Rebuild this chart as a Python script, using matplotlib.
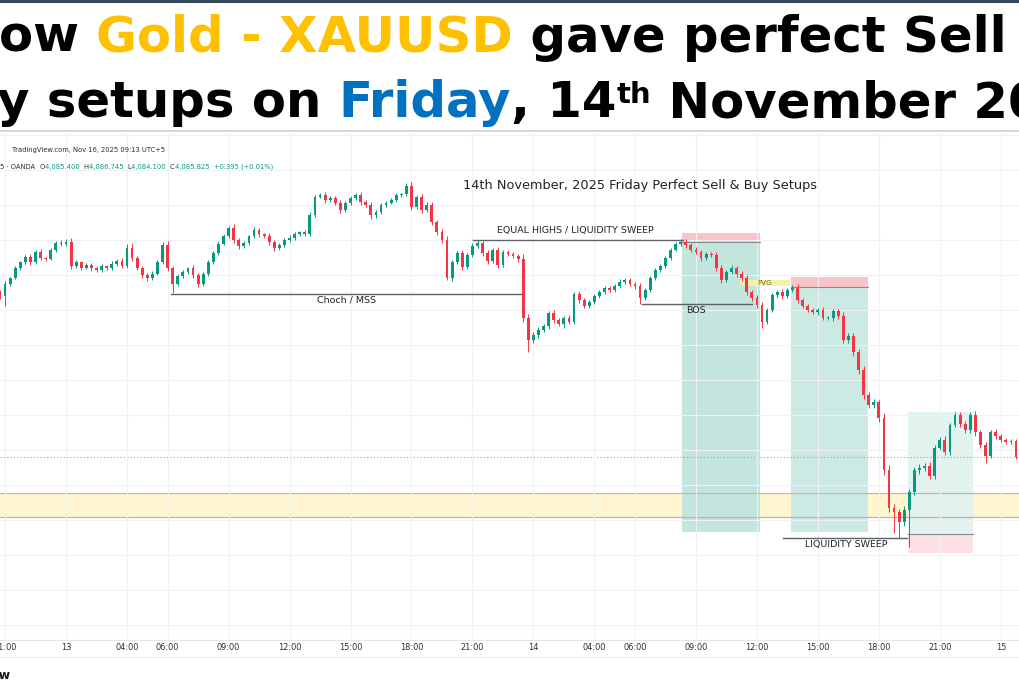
import matplotlib
matplotlib.use("Agg")
import matplotlib.pyplot as plt
import numpy as np
from matplotlib.patches import Rectangle
from matplotlib.lines import Line2D
import matplotlib.transforms as mtransforms

# ---------------- data (15-minute XAUUSD candles, 12 Nov 20:45 -> 15 Nov 01:00, UTC+5) -------------
first_open = 4180.0
closes = [
    4177.7, 4184.6, 4188.0, 4193.7, 4197.1, 4200.0, 4197.1, 4202.9, 4199.4, 4198.9,
    4204.0, 4208.0, 4207.4, 4208.6, 4194.9, 4197.1, 4193.7, 4195.4, 4193.7, 4192.6,
    4194.9, 4193.7, 4196.0, 4197.7, 4194.9, 4205.1, 4199.4, 4193.7, 4189.7, 4188.0,
    4190.3, 4197.1, 4206.9, 4193.7, 4184.6, 4189.1, 4191.4, 4193.7, 4189.7, 4184.6,
    4190.3, 4197.1, 4202.3, 4207.4, 4212.0, 4216.6, 4209.7, 4206.3, 4208.0, 4212.0,
    4215.4, 4213.1, 4212.0, 4208.6, 4205.1, 4206.9, 4209.7, 4210.9, 4213.1, 4214.3,
    4213.1, 4224.0, 4234.3, 4235.4, 4232.6, 4233.7, 4230.9, 4226.9, 4230.9, 4233.7,
    4235.4, 4231.4, 4229.7, 4224.0, 4225.7, 4229.7, 4230.9, 4232.6, 4235.4, 4236.0,
    4240.6, 4228.6, 4234.3, 4226.9, 4229.7, 4220.0, 4214.3, 4209.7, 4188.0, 4197.1,
    4202.3, 4194.3, 4201.1, 4206.3, 4208.0, 4202.3, 4197.7, 4204.0, 4195.4, 4202.9,
    4201.7, 4200.6, 4198.9, 4165.1, 4152.6, 4155.4, 4158.3, 4160.6, 4168.0, 4164.0,
    4161.7, 4165.1, 4162.9, 4178.9, 4175.4, 4172.0, 4174.3, 4177.7, 4180.0, 4182.3,
    4181.1, 4183.4, 4185.7, 4186.9, 4184.6, 4183.4, 4176.6, 4181.1, 4188.0, 4192.6,
    4194.9, 4199.4, 4204.0, 4207.4, 4208.6, 4206.9, 4204.0, 4202.9, 4199.4, 4201.7,
    4201.1, 4193.7, 4186.9, 4191.4, 4193.7, 4190.3, 4188.0, 4180.0, 4176.6, 4172.6,
    4162.9, 4169.7, 4178.3, 4180.0, 4177.7, 4181.1, 4182.3, 4175.4, 4172.0, 4169.7,
    4168.6, 4169.7, 4165.1, 4165.1, 4169.1, 4166.3, 4152.6, 4154.9, 4145.7, 4135.4,
    4121.1, 4115.4, 4117.1, 4108.0, 4078.3, 4056.6, 4054.3, 4048.6, 4055.4, 4065.7,
    4078.3, 4079.4, 4080.6, 4074.9, 4090.9, 4095.4, 4088.6, 4104.0, 4109.7, 4104.6,
    4101.1, 4109.7, 4100.0, 4092.6, 4086.3, 4100.0, 4097.7, 4095.4, 4094.3, 4094.9,
    4085.8,
]
upper_wicks = [
    1.0, 1.5, 0.8, 1.2, 0.9, 1.4, 2.0, 1.1, 1.6, 0.8, 1.3, 0.9, 1.5, 1.7, 2.2, 1.0, 0.8, 1.4, 1.1, 0.9,
    1.2, 0.7, 1.5, 1.0, 1.8, 2.1, 3.0, 1.2, 0.9, 1.3, 1.6, 1.0, 1.7, 2.4, 1.1, 1.4, 1.0, 0.8, 1.5, 1.2,
    0.9, 1.3, 1.0, 1.6, 1.2, 1.1, 2.3, 1.0, 1.4, 0.8, 1.5, 1.2, 0.9, 1.6, 1.1, 1.3, 0.9, 1.4, 1.0, 0.8,
    1.2, 1.5, 1.1, 1.2, 1.8, 1.0, 1.4, 1.6, 0.9, 1.2, 1.0, 2.0, 1.3, 1.5, 1.1, 0.9, 1.2, 1.0, 1.4, 0.8,
    1.7, 2.5, 1.2, 1.8, 1.5, 2.0, 1.1, 1.6, 2.2, 1.4, 1.0, 1.8, 1.2, 1.5, 1.7, 1.3, 1.6, 1.1, 2.0, 1.2,
    0.9, 1.1, 1.0, 2.8, 2.5, 1.5, 1.8, 1.2, 1.4, 1.9, 1.3, 1.0, 1.5, 1.2, 1.6, 1.1, 1.3, 1.0, 0.9, 1.4,
    1.2, 1.0, 1.5, 1.3, 1.1, 0.9, 1.8, 1.4, 1.0, 1.2, 0.9, 1.3, 1.0, 1.1, 1.7, 1.5, 1.2, 1.6, 1.0, 1.4,
    1.1, 1.8, 2.0, 1.2, 1.5, 1.3, 1.6, 1.9, 1.4, 1.7, 1.5, 1.2, 1.3, 1.0, 1.6, 1.2, 1.5, 2.2, 1.4, 1.1,
    1.3, 1.0, 1.6, 1.2, 1.4, 1.1, 2.5, 1.8, 1.5, 2.0, 2.4, 1.6, 1.9, 1.4, 3.0, 2.8, 2.2, 1.8, 2.5, 2.0,
    1.8, 2.4, 1.6, 2.0, 1.5, 1.8, 2.2, 1.4, 1.7, 2.0, 1.5, 1.6, 2.1, 1.4, 1.8, 1.3, 1.5, 1.2, 1.4, 1.1,
    1.0,
]
lower_wicks = [
    1.5, 5.7, 1.0, 0.8, 1.2, 1.0, 1.6, 0.9, 1.3, 1.1, 0.8, 1.2, 1.0, 0.9, 1.8, 1.4, 1.1, 0.8, 1.5, 1.2,
    1.0, 1.3, 0.9, 1.1, 1.4, 1.0, 1.5, 1.2, 1.6, 1.9, 1.1, 0.8, 1.0, 1.7, 5.2, 1.3, 1.0, 1.2, 1.5, 1.7,
    1.2, 0.9, 1.1, 1.0, 0.8, 1.2, 1.6, 2.0, 1.1, 0.9, 1.0, 1.4, 1.2, 1.5, 1.8, 1.1, 0.9, 1.3, 1.0, 1.2,
    0.9, 1.0, 1.2, 0.8, 1.5, 1.3, 1.1, 1.8, 1.0, 0.9, 1.2, 1.6, 1.4, 2.2, 1.9, 1.0, 1.1, 0.8, 1.2, 1.0,
    0.9, 1.8, 1.3, 2.0, 1.4, 1.6, 1.9, 1.5, 1.1, 1.8, 1.2, 1.5, 1.3, 1.0, 1.2, 1.6, 1.8, 1.1, 1.7, 1.3,
    1.1, 1.2, 1.5, 2.4, 6.9, 2.0, 1.6, 1.3, 1.8, 1.5, 1.4, 2.1, 1.2, 1.0, 1.5, 1.3, 1.1, 1.2, 1.0, 0.9,
    1.3, 1.1, 1.0, 1.4, 1.2, 1.5, 3.5, 1.1, 1.0, 0.9, 1.2, 1.0, 1.1, 0.8, 1.3, 1.5, 1.2, 1.4, 1.6, 1.1,
    1.3, 1.7, 2.0, 1.4, 1.2, 1.5, 1.6, 1.8, 1.5, 2.0, 3.5, 1.4, 1.2, 1.1, 1.5, 1.3, 1.2, 1.6, 1.4, 1.2,
    1.1, 1.5, 1.3, 1.2, 1.4, 1.6, 2.0, 1.8, 2.2, 2.5, 2.0, 1.8, 1.6, 2.2, 3.0, 2.5, 12.0, 9.2, 2.5, 21.1,
    1.8, 2.2, 1.5, 2.0, 1.6, 1.4, 2.0, 1.5, 1.3, 1.8, 1.6, 1.4, 2.0, 1.5, 4.0, 1.2, 1.5, 1.3, 1.4, 1.2,
    1.1,
]
tick_labels = ["21:00", "13", "04:00", "06:00", "09:00", "12:00", "15:00", "18:00", "21:00",
               "14", "04:00", "06:00", "09:00", "12:00", "15:00", "18:00", "21:00", "15"]
tick_bars = [1, 13, 25, 33, 45, 57, 69, 81, 93, 105, 117, 125, 137, 149, 161, 173, 185, 197]

# annotation levels (price) and bar spans
eqh_level, eqh_span = 4209.8, (93.1, 134.4)
choch_level, choch_span = 4178.9, (33.7, 102.8)
bos_level, bos_span = 4173.1, (126.4, 148.0)
sweep_level, sweep_span = 4039.4, (154.1, 178.5)
fvg_zone, fvg_span = (4183.4, 4186.9), (145.7, 155.5)
sell1 = dict(span=(134.3, 149.6), stop=4213.7, entry=4208.6, target=4042.9)
sell2 = dict(span=(155.7, 170.9), stop=4188.6, entry=4182.9, target=4042.9)
buy1 = dict(span=(178.7, 191.5), stop=4030.9, entry=4041.7, target=4111.4)
demand_zone = (4051.4, 4065.1)
last_price = 4085.8

# ---------------- figure ----------------
W, H = 1020, 700
fig = plt.figure(figsize=(W / 100, H / 100), dpi=100)
fig.patch.set_facecolor("white")

GREEN = "#089981"
RED = "#f23645"

CH_TOP, CH_BOT = 133, 639
ax = fig.add_axes([0, (H - CH_BOT) / H, 1, (CH_BOT - CH_TOP) / H])
PX_PER_BAR = 5.08
ax.set_xlim(0, W / PX_PER_BAR)
# price scale: 20 USD per 35 px, 4080 at pixel row 467
ax.set_ylim(4080 + (467 - CH_BOT) / 1.75, 4080 + (467 - CH_TOP) / 1.75)
for s in ax.spines.values():
    s.set_visible(False)
ax.set_yticks(np.arange(3990, 4280, 20))
ax.set_xticks(tick_bars)
ax.tick_params(length=0, labelleft=False, labelbottom=False)
ax.grid(True, color="#f0f1f3", lw=0.8, zorder=0)
ax.set_facecolor("white")

# demand zone
ax.axhspan(demand_zone[0], demand_zone[1], color="#fff5cf", zorder=1, lw=0)
ax.axhline(demand_zone[1], color="#c8b898", lw=0.9, zorder=1.5)
ax.axhline(demand_zone[0], color="#b5b5b5", lw=0.9, zorder=1.5)
ax.axhline(last_price, color="#7fb3aa", lw=0.8, ls=(0, (1, 2)), zorder=1.5)


def box(x0, x1, y0, y1, color, alpha=1.0, z=1.2):
    ax.add_patch(Rectangle((x0, min(y0, y1)), x1 - x0, abs(y1 - y0), facecolor=color,
                           edgecolor="none", alpha=alpha, zorder=z))


# position tools
box(*sell1["span"], sell1["entry"], sell1["stop"], "#f9c4c9")
box(*sell1["span"], sell1["target"], sell1["entry"], "#c4e4de")
box(*sell2["span"], sell2["entry"], sell2["stop"], "#f9c4c9")
box(*sell2["span"], sell2["target"], sell2["entry"], "#cde9e4")
box(*buy1["span"], buy1["entry"], buy1["target"], "#e1f2ef")
box(*buy1["span"], buy1["stop"], buy1["entry"], "#fce0e3")
ax.plot(sell1["span"], [sell1["entry"]] * 2, color="#8a8a8a", lw=0.8, zorder=2)
ax.plot(sell2["span"], [sell2["entry"]] * 2, color="#8a8a8a", lw=0.8, zorder=2)
ax.plot(buy1["span"], [buy1["entry"]] * 2, color="#8a8a8a", lw=0.8, zorder=2)
box(*fvg_span, fvg_zone[0], fvg_zone[1], "#f4f0a6", z=1.3)

# structure lines
LINE_C = "#5d6066"
ax.plot(eqh_span, [eqh_level] * 2, color=LINE_C, lw=1.0, zorder=5)
ax.plot(choch_span, [choch_level] * 2, color=LINE_C, lw=1.0, zorder=5)
ax.plot(bos_span, [bos_level] * 2, color=LINE_C, lw=1.0, zorder=5)
ax.plot(sweep_span, [sweep_level] * 2, color=LINE_C, lw=1.0, zorder=5)

# candles
c = np.array(closes)
o = np.array([first_open] + closes[:-1])
hi = np.maximum(o, c) + np.array(upper_wicks)
lo = np.minimum(o, c) - np.array(lower_wicks)
idx = np.arange(len(c))
cols = np.where(c >= o, GREEN, RED)
ax.vlines(idx, lo, hi, colors=cols, lw=0.7, zorder=6)
ax.bar(idx, np.maximum(np.abs(c - o), 0.35), bottom=np.minimum(o, c), width=0.55,
       color=cols, lw=0, zorder=7)

# chart labels
TXT = "#1f2329"
lab = dict(fontsize=6.8, color=TXT, family="DejaVu Sans", zorder=8)
ax.text(sum(eqh_span) / 2 - 0.5, eqh_level + 2.6, "EQUAL HIGHS / LIQUIDITY SWEEP", ha="center", va="bottom", **lab)
ax.text(68.3, choch_level - 1.0, "Choch / MSS", ha="center", va="top", **lab)
ax.text(137.0, bos_level - 1.0, "BOS", ha="center", va="top", **lab)
ax.text(150.6, sum(fvg_zone) / 2, "FVG", ha="center", va="center", fontsize=5.2, color="#6b6b40",
        family="DejaVu Sans", zorder=8)
ax.text(166.5, sweep_level - 1.3, "LIQUIDITY SWEEP", ha="center", va="top", **lab)
ax.text(91.1, 4241.1, "14th November, 2025 Friday Perfect Sell & Buy Setups", ha="left", va="center",
        fontsize=9.3, color=TXT, family="DejaVu Sans", zorder=8)

# time axis labels (row at pixel 648)
tr = mtransforms.blended_transform_factory(ax.transData, ax.transAxes)
label_row = -(648 - CH_BOT) / (CH_BOT - CH_TOP)
for b, t in zip(tick_bars, tick_labels):
    ax.text(b, label_row, t, transform=tr, ha="center", va="center", fontsize=5.9,
            color="#2a2e39", family="DejaVu Sans", clip_on=False)

# ---------------- header & frame ----------------
def fx(x):
    return x / W


def fy(y):
    return 1 - y / H


fig.add_artist(Line2D([0, 1], [fy(1), fy(1)], color="#34465a", lw=2.2))
fig.add_artist(Line2D([0, 1], [fy(131), fy(131)], color="#c9d1db", lw=1.2))
fig.add_artist(Line2D([0, 1], [fy(639.5), fy(639.5)], color="#e3e5e8", lw=0.8))
fig.add_artist(Line2D([0, 1], [fy(657), fy(657)], color="#eceef0", lw=0.8))

renderer = fig.canvas.get_renderer()


def px_width(s, **kw):
    t = fig.text(0, 0, s + "|", **kw)
    w1 = t.get_window_extent(renderer).width
    t.remove()
    t = fig.text(0, 0, "|", **kw)
    w2 = t.get_window_extent(renderer).width
    t.remove()
    return w1 - w2


def seq(parts, x0, yb, base):
    x = x0
    for s, kw in parts:
        k = dict(base)
        k.update(kw)
        dy = k.pop("dy", 0)
        fig.text(fx(x), fy(yb - dy), s, ha="left", va="baseline", **k)
        x += px_width(s, **k)


HB = dict(family="DejaVu Sans", weight="bold", fontsize=35.8, color="black")
GOLD = "#ffc000"
BLUE = "#0070c0"
seq([("ow ", {}), ("Gold - XAUUSD", dict(color=GOLD)), (" gave perfect Sell & Buy", {})], -1, 52, HB)
seq([("y setups on ", {}), ("Friday", dict(color=BLUE)), (", 14", {}),
     ("th", dict(fontsize=21, dy=14)), (" November 2025", {})], -3, 117, HB)

SMALL = dict(family="DejaVu Sans", fontsize=4.9, color="#2a2e39")
seq([("TradingView.com, Nov 16, 2025 09:13 UTC+5", {})], 12, 152, SMALL)
VG = dict(color=GREEN)
seq([("5 \u00b7 OANDA  ", {}), ("O", {}), ("4,085.400  ", VG), ("H", {}), ("4,086.745  ", VG),
     ("L", {}), ("4,084.100  ", VG), ("C", {}), ("4,085.825  ", VG), ("+0.395 (+0.01%)", VG)],
    0, 169, SMALL)

fig.text(fx(11), fy(675), "TradingView", ha="right", va="center", family="DejaVu Sans",
         weight="bold", fontsize=9, color="#131722")

fig.savefig("out.png", dpi=100, facecolor="white")
